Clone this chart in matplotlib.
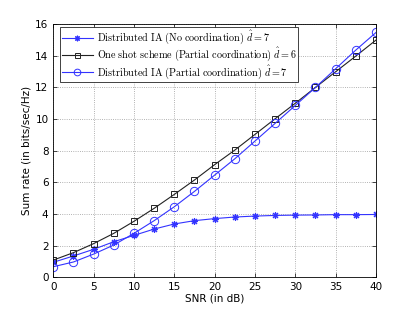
import matplotlib
matplotlib.use("Agg")
import matplotlib.pyplot as plt

snr = [0, 2.5, 5, 7.5, 10, 12.5, 15, 17.5, 20, 22.5, 25, 27.5, 30, 32.5, 35, 37.5, 40]
ia_nocoord = [0.95, 1.35, 1.77, 2.25, 2.65, 3.05, 3.37, 3.58, 3.71, 3.81, 3.87, 3.91, 3.93, 3.94, 3.96, 3.96, 3.97]
oneshot = [1.09, 1.56, 2.13, 2.78, 3.54, 4.36, 5.24, 6.15, 7.12, 8.04, 9.03, 10.02, 11.0, 12.0, 12.99, 13.98, 14.99]
ia_partial = [0.67, 0.97, 1.47, 2.04, 2.78, 3.58, 4.46, 5.43, 6.46, 7.49, 8.61, 9.73, 10.86, 12.0, 13.18, 14.36, 15.47]

labels = [r'$\mathrm{Distributed\ IA\ (No\ coordination)}\ \hat{d}=7$',
          r'$\mathrm{One\ shot\ scheme\ (Partial\ coordination)}\ \hat{d}=6$',
          r'$\mathrm{Distributed\ IA\ (Partial\ coordination)}\ \hat{d}=7$']

plt.rcParams['mathtext.fontset'] = 'cm'
fig = plt.figure(figsize=(4.15, 3.13), dpi=100)
ax = fig.add_axes([0.1285, 0.114, 0.7775, 0.809])

blue = '#3333ff'
ax.plot(snr, ia_nocoord, color=blue, lw=0.8, marker=(8, 2, 0), ms=5, mfc=blue, mec=blue, mew=0.8, label=labels[0])
ax.plot(snr, oneshot, color='#222222', lw=0.8, marker='s', ms=4.5, mfc='none', mec='#222222', mew=0.7, label=labels[1])
ax.plot(snr, ia_partial, color=blue, lw=0.8, marker='o', ms=6, mfc='none', mec=blue, mew=0.7, label=labels[2])

ax.set_xlim(0, 40)
ax.set_ylim(0, 16)
ax.set_xticks(range(0, 41, 5))
ax.set_yticks(range(0, 17, 2))
ax.grid(True, linestyle=':', color='#999999', lw=0.6)
ax.tick_params(direction='in', top=True, right=True, labelsize=7.5, length=3, width=0.5)
for s in ax.spines.values():
    s.set_linewidth(0.6)
ax.set_xlabel('SNR (in dB)', fontsize=7.5, labelpad=1)
ax.set_ylabel('Sum rate (in bits/sec/Hz)', fontsize=7.5, labelpad=3)
leg = ax.legend(loc='upper left', bbox_to_anchor=(0.021, 0.987), borderaxespad=0,
                fontsize=7.3, frameon=True, fancybox=False, framealpha=1,
                edgecolor='#222222', handlelength=3.1, borderpad=0.15, labelspacing=0.0,
                handletextpad=0.4, markerscale=0.8)
leg.get_frame().set_linewidth(0.6)
fig.savefig('out.png', dpi=100)
